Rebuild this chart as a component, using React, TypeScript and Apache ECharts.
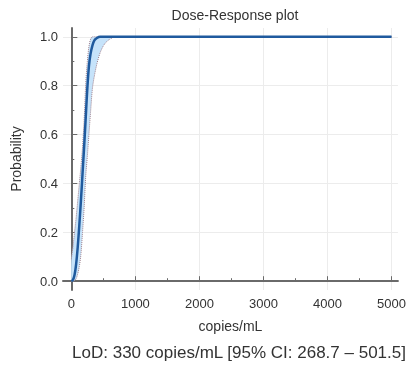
import React, { useEffect, useRef } from "react";
import * as echarts from "echarts";

const doses = [0, 25, 50, 75, 100, 125, 150, 175, 200, 225, 250, 275, 300, 330, 360, 400, 450, 500, 550, 600, 650, 700, 1000, 2000, 3000, 4000, 5000];
const probMain = [0, 0.005, 0.025, 0.07, 0.14, 0.23, 0.33, 0.44, 0.55, 0.67, 0.79, 0.88, 0.93, 0.965, 0.985, 0.995, 1, 1, 1, 1, 1, 1, 1, 1, 1, 1, 1];
const probUpper = [0.09, 0.14, 0.2, 0.26, 0.33, 0.4, 0.47, 0.55, 0.66, 0.81, 0.9, 0.96, 0.99, 1, 1, 1, 1, 1, 1, 1, 1, 1, 1, 1, 1, 1, 1];
const probLower = [0, 0, 0.003, 0.01, 0.03, 0.06, 0.11, 0.2, 0.3, 0.43, 0.51, 0.6, 0.69, 0.79, 0.84, 0.89, 0.935, 0.963, 0.98, 0.99, 0.997, 1, 1, 1, 1, 1, 1];
const xTicks = [0, 1000, 2000, 3000, 4000, 5000];
const yTicks = [0, 0.2, 0.4, 0.6, 0.8, 1.0];

const titleText = "Dose-Response plot";
const lodText = "LoD: 330 copies/mL [95% CI: 268.7 \u2013 501.5]";

export default function App() {
  const ref = useRef<HTMLDivElement>(null);
  useEffect(() => {
    if (!ref.current) return;
    const chart = echarts.init(ref.current, null, { renderer: "svg" });
    const font = "Liberation Sans, Arial, sans-serif";
    const lowerData = doses.map((d, i) => [d, probLower[i]]);
    const upperData = doses.map((d, i) => [d, probUpper[i]]);
    const mainData = doses.map((d, i) => [d, probMain[i]]);
    const axisCommon = {
      axisLine: { show: true, lineStyle: { color: "#6a6a6a", width: 2 } },
      axisLabel: { color: "#333", fontSize: 13, fontFamily: font },
      splitLine: { show: true, lineStyle: { color: "#ececec", width: 1 } },
      minorTick: { show: true, splitNumber: 2, length: 3, lineStyle: { color: "#6a6a6a" } },
      nameTextStyle: { color: "#333", fontSize: 14, fontFamily: font },
    };
    const ciLine = { color: "#a0808c", width: 1, type: "dotted" };
    chart.setOption({
      animation: false,
      textStyle: { fontFamily: font },
      grid: { left: 63, right: 9, top: 28, bottom: 77, containLabel: false },
      xAxis: {
        type: "value",
        min: -130,
        max: 5100,
        ...axisCommon,
        axisTick: { show: true, inside: true, length: 5, customValues: xTicks, lineStyle: { color: "#6a6a6a" } },
        axisLabel: { ...axisCommon.axisLabel, customValues: xTicks, margin: 7, formatter: (v: number) => String(v) },
        name: "copies/mL",
        nameLocation: "middle",
        nameGap: 29,
      },
      yAxis: {
        type: "value",
        min: -0.036,
        max: 1.036,
        ...axisCommon,
        axisTick: { show: true, inside: true, length: 6, customValues: yTicks, lineStyle: { color: "#6a6a6a" } },
        axisLabel: { ...axisCommon.axisLabel, customValues: yTicks, margin: 5, formatter: (v: number) => v.toFixed(1) },
        name: "Probability",
        nameLocation: "middle",
        nameGap: 40,
      },
      graphic: [
        { type: "text", x: 235, y: 15, style: { text: titleText, fontSize: 14, fontFamily: font, fill: "#333", textAlign: "center", textVerticalAlign: "middle" } },
        { type: "text", x: 239, y: 352, style: { text: lodText, fontSize: 17, fontFamily: font, fill: "#333", textAlign: "center", textVerticalAlign: "middle" } },
      ],
      series: [
        {
          type: "custom",
          name: "band",
          data: [0],
          clip: true,
          renderItem: (params: any, api: any) => {
            const pts: number[][] = [];
            upperData.forEach((p) => pts.push(api.coord(p)));
            for (let i = lowerData.length - 1; i >= 0; i--) pts.push(api.coord(lowerData[i]));
            return {
              type: "polygon",
              shape: { points: pts, smooth: 0.2 },
              style: { fill: "#c6e3fa", stroke: "none" },
            };
          },
          z: 1,
        },
        {
          type: "line",
          name: "lower",
          data: lowerData,
          showSymbol: false,
          smooth: 0.3,
          lineStyle: ciLine,
          z: 2,
        },
        {
          type: "line",
          name: "upper",
          data: upperData,
          showSymbol: false,
          smooth: 0.3,
          lineStyle: ciLine,
          z: 2,
        },
        {
          type: "line",
          name: "main",
          data: mainData,
          showSymbol: false,
          smooth: 0.3,
          lineStyle: { color: "#1f5a9e", width: 2.5 },
          z: 3,
        },
      ],
    });
    return () => chart.dispose();
  }, []);
  return <div ref={ref} style={{ position: "fixed", left: 0, top: 0, width: 409, height: 367 }} />;
}
